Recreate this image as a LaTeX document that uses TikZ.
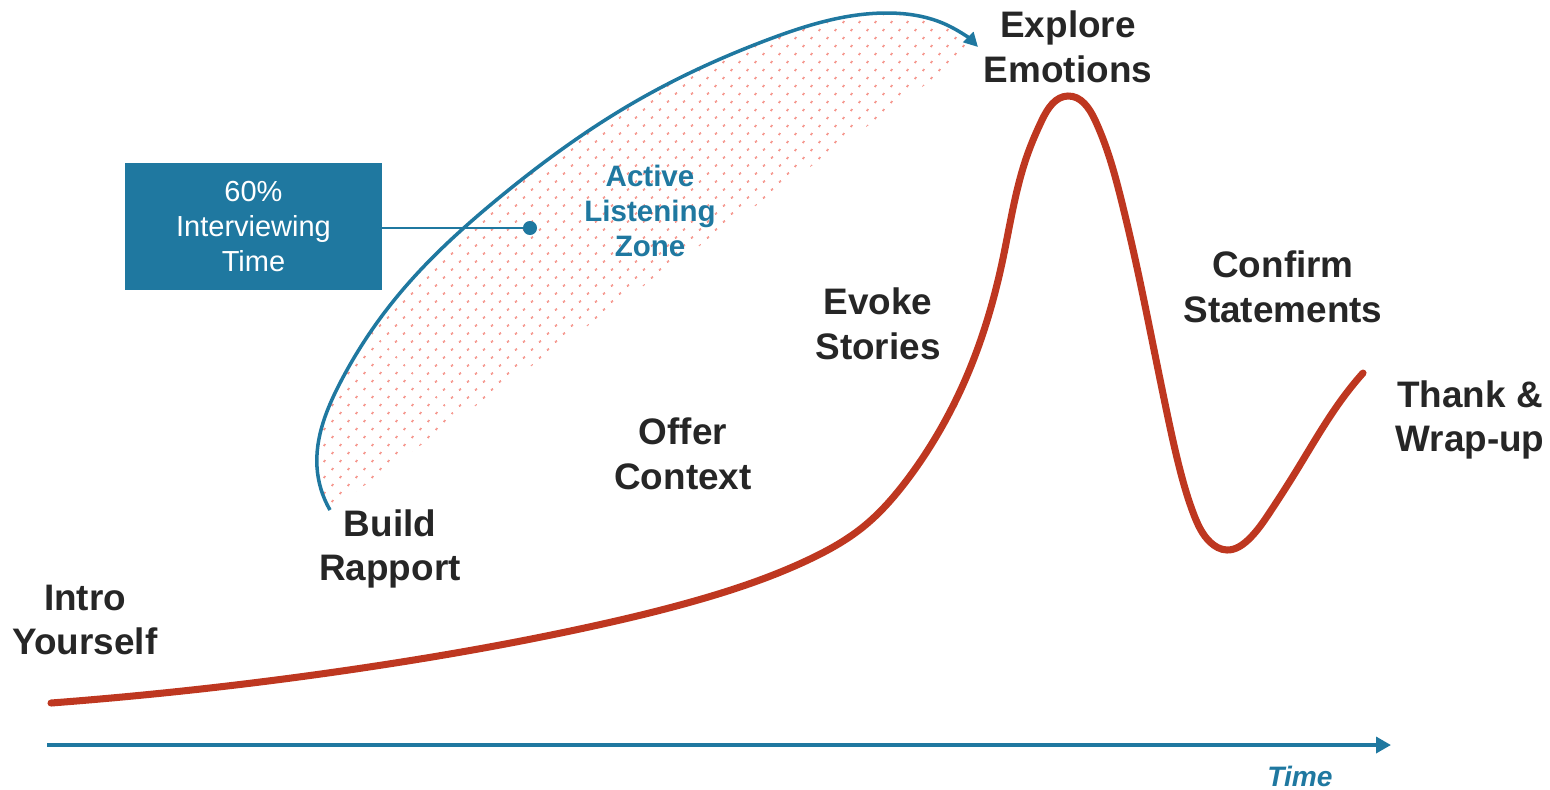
\documentclass[tikz,border=0pt]{standalone}
\usepackage{fontspec}
\setmainfont{Liberation Sans}
\usetikzlibrary{arrows.meta,patterns.meta,hobby}
\definecolor{blu}{RGB}{31,120,160}
\definecolor{rosso}{RGB}{190,55,32}
\definecolor{punti}{RGB}{244,135,125}
\definecolor{testo}{RGB}{38,38,38}

\begin{document}
\begin{tikzpicture}[x=0.02cm, y=-0.02cm,
    tappa/.style={align=center, text=testo, font=\fontsize{21}{25.5}\selectfont\bfseries},
    zona/.style={align=center, text=blu, font=\fontsize{16.8}{19.8}\selectfont\bfseries},
    riquadro/.style={fill=blu, text=white, align=center, minimum width=5.14cm, minimum height=2.54cm, font=\fontsize{16.5}{19.8}\selectfont}]
    \useasboundingbox (0,0) rectangle (1550,789);

    % Zona di ascolto
    \fill[use Hobby shortcut, pattern={Dots[distance=6.4pt,angle=45,radius=0.8pt]}, pattern color=punti]
        (330,510) .. (317,467) .. (340,383) .. (400,293) .. (500,197) .. (633,103) .. (767,40) .. (887,13) .. (947,25) .. (978,47) -- cycle;
    \draw[use Hobby shortcut, blu, line width=2pt, -{Triangle[length=8pt,width=8pt]}]
        (330,510) .. (317,467) .. (340,383) .. (400,293) .. (500,197) .. (633,103) .. (767,40) .. (887,13) .. (947,25) .. (978,47);

    % Curva
    \draw[use Hobby shortcut, rosso, line width=4pt, line cap=round]
        (51,703) .. (369,667) .. (589,627) .. (698,600) .. (808,560) .. (863,527) .. (907,480) .. (940,430) .. (966,378) .. (1002,263) .. (1028,153) .. (1042,120) .. (1068,96) .. (1095,120) .. (1108,153) .. (1122,203) .. (1136,263) .. (1150,330) .. (1167,413) .. (1180,470) .. (1194,515) .. (1210,542) .. (1227,550) .. (1248,540) .. (1270,512) .. (1295,473) .. (1320,432) .. (1345,395) .. (1363,373);

    % Tappe
    \foreach \nome/\x/\y/\txt in {intro/85/620/{Intro\\Yourself}, build/390/549/{Build\\Rapport}, offer/683/454/{Offer\\Context}, evoke/878/324/{Evoke\\Stories}, explore/1068/47/{Explore\\Emotions}, confirm/1283/287/{Confirm\\Statements}, thank/1470/420/{Thank \&\\Wrap-up}} {
            \node[tappa] (\nome) at (\x,\y) {\txt};
        }

    \node[zona] (ascolto) at (650,211) {Active\\Listening\\Zone};

    % Riquadro
    \node[riquadro] (tempo) at (253.5,226.5) {60\%\\Interviewing\\Time};
    \node[circle, fill=blu, inner sep=0pt, minimum size=8pt] (punto) at (530,228) {};
    \draw[blu, line width=1.2pt] (tempo.east |- punto) -- (punto);

    % Asse
    \coordinate (t0) at (47,745);
    \coordinate (t1) at (1391,745);
    \draw[blu, line width=2.5pt, -{Triangle[length=8.5pt,width=9pt]}] (t0) -- (t1);
    \node[text=blu, inner sep=1pt, font=\fontsize{16}{19}\selectfont\bfseries\itshape] (asse) at (1300,776) {Time};
\end{tikzpicture}
\end{document}
